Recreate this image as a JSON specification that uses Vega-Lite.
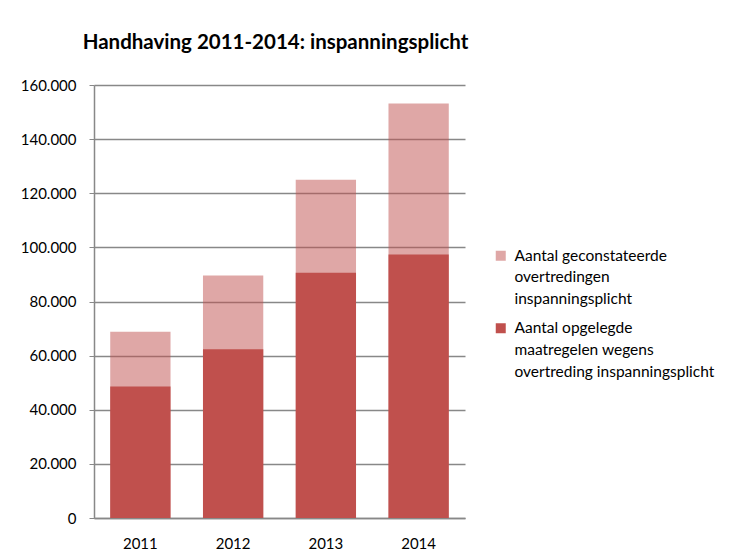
{
  "$schema": "https://vega.github.io/schema/vega-lite/v6.json",
  "width": 371,
  "height": 433,
  "autosize": {"type": "none"},
  "padding": {"left": 94, "top": 85, "right": 268, "bottom": 37},
  "background": "white",
  "config": {
    "locale": {"number": {"decimal": ",", "thousands": ".", "grouping": [3], "currency": ["€", ""]}},
    "view": {"stroke": null},
    "font": "Lato",
    "style": {"guide-label": {"lineHeight": 21.7}}
  },
  "title": {
    "text": "Handhaving 2011-2014: inspanningsplicht",
    "font": "Lato",
    "fontSize": 20.5,
    "fontWeight": "bold",
    "color": "#000000",
    "anchor": "middle",
    "frame": "group",
    "offset": 25,
    "dx": -4
  },
  "data": {
    "values": [
      {"jaar": "2011", "reeks": "Aantal geconstateerde overtredingen inspanningsplicht", "aantal": 68800},
      {"jaar": "2012", "reeks": "Aantal geconstateerde overtredingen inspanningsplicht", "aantal": 89600},
      {"jaar": "2013", "reeks": "Aantal geconstateerde overtredingen inspanningsplicht", "aantal": 125000},
      {"jaar": "2014", "reeks": "Aantal geconstateerde overtredingen inspanningsplicht", "aantal": 153200},
      {"jaar": "2011", "reeks": "Aantal opgelegde maatregelen wegens overtreding inspanningsplicht", "aantal": 48600},
      {"jaar": "2012", "reeks": "Aantal opgelegde maatregelen wegens overtreding inspanningsplicht", "aantal": 62400},
      {"jaar": "2013", "reeks": "Aantal opgelegde maatregelen wegens overtreding inspanningsplicht", "aantal": 90600},
      {"jaar": "2014", "reeks": "Aantal opgelegde maatregelen wegens overtreding inspanningsplicht", "aantal": 97400}
    ]
  },
  "mark": {"type": "bar"},
  "encoding": {
    "x": {
      "field": "jaar",
      "type": "nominal",
      "scale": {"paddingInner": 0.35, "paddingOuter": 0.175},
      "axis": {
        "title": null,
        "labelAngle": 0,
        "labelFont": "Lato",
        "labelFontSize": 15,
        "labelColor": "#000000",
        "labelPadding": 18,
        "ticks": false,
        "domainColor": "#888888",
        "domainWidth": 1.5,
        "grid": false
      }
    },
    "y": {
      "field": "aantal",
      "type": "quantitative",
      "stack": null,
      "scale": {"domain": [0, 160000], "nice": false},
      "axis": {
        "title": null,
        "values": [0, 20000, 40000, 60000, 80000, 100000, 120000, 140000, 160000],
        "format": ",d",
        "labelFont": "Lato",
        "labelFontSize": 15,
        "labelColor": "#000000",
        "labelPadding": 13,
        "tickSize": 5,
        "tickColor": "#888888",
        "domainColor": "#888888",
        "domainWidth": 1.5,
        "gridColor": "#888888",
        "gridWidth": 1.5
      }
    },
    "color": {
      "field": "reeks",
      "type": "nominal",
      "scale": {
        "domain": ["Aantal geconstateerde overtredingen inspanningsplicht", "Aantal opgelegde maatregelen wegens overtreding inspanningsplicht"],
        "range": ["rgba(192,80,77,0.5)", "#c0504d"]
      },
      "legend": {
        "title": null,
        "orient": "none",
        "legendX": 399,
        "legendY": 163,
        "symbolType": "square",
        "symbolSize": 100,
        "symbolStrokeWidth": 0,
        "labelFont": "Lato",
        "labelFontSize": 15.5,
        "labelColor": "#000000",
        "labelLimit": 300,
        "labelOffset": 6,
        "rowPadding": 12.5,
        "labelExpr": "datum.label == 'Aantal geconstateerde overtredingen inspanningsplicht' ? ['Aantal geconstateerde', 'overtredingen', 'inspanningsplicht'] : ['Aantal opgelegde', 'maatregelen wegens', 'overtreding inspanningsplicht']"
      }
    },
    "order": {"field": "reeks", "type": "nominal"}
  }
}
